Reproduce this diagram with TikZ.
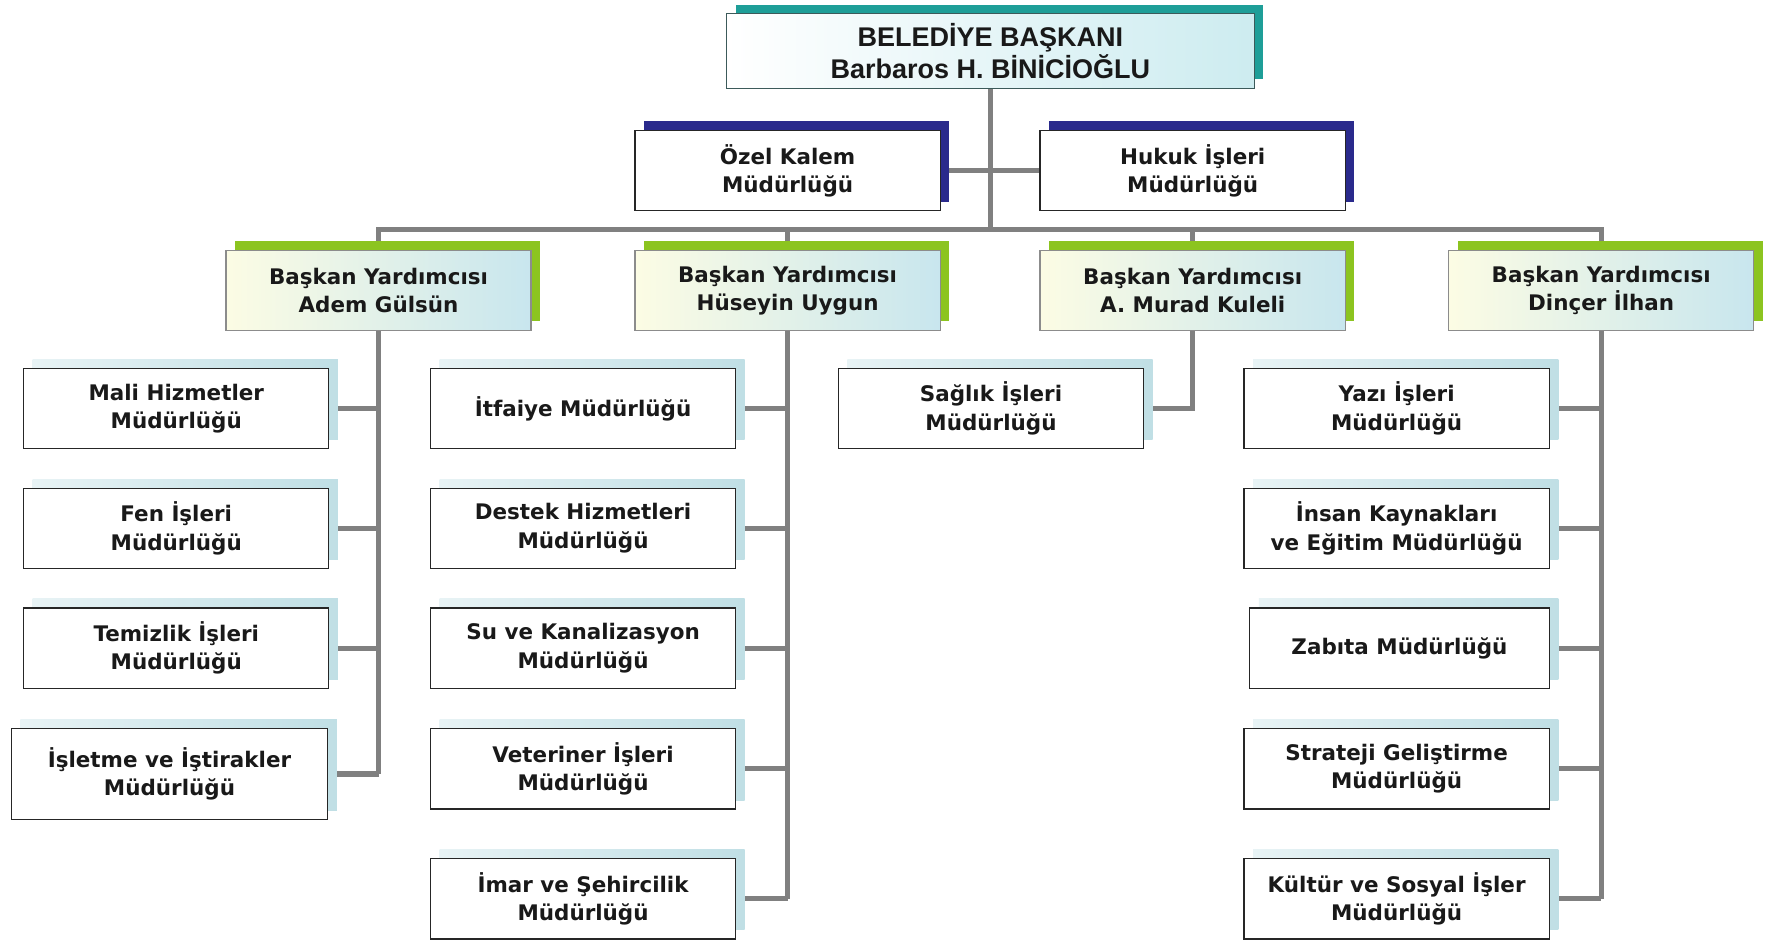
\documentclass[tikz,border=0pt]{standalone}
\usepackage{fontspec}
\setmainfont{DejaVu Sans}
\newfontfamily\arialf{Liberation Sans}
\usetikzlibrary{shadows,backgrounds}
\definecolor{tealsh}{RGB}{30,158,152}
\definecolor{tealbd}{RGB}{60,90,90}
\definecolor{navysh}{RGB}{42,42,140}
\definecolor{limesh}{RGB}{140,196,32}
\definecolor{bluesh}{RGB}{192,223,229}
\definecolor{bluesl}{RGB}{232,243,245}
\definecolor{conngray}{RGB}{128,128,128}
\definecolor{vpL}{RGB}{252,252,228}
\definecolor{vpR}{RGB}{200,230,238}
\definecolor{topR}{RGB}{205,236,240}
\tikzset{
  basebox/.style={draw=black!85, line width=0.8pt, align=center, inner sep=0pt,
    minimum width=6.75cm, minimum height=1.775cm,
    font=\bfseries\fontsize{13.5}{17.8}\selectfont, text=black!90},
  topbox/.style={basebox, draw=tealbd, minimum width=11.675cm, minimum height=1.65cm,
    left color=white, right color=topR,
    font=\arialf\bfseries\fontsize{17}{20}\selectfont,
    general shadow={fill=tealsh, shadow xshift=0.2cm, shadow yshift=0.2cm}},
  mgrbox/.style={basebox, fill=white,
    general shadow={fill=navysh, shadow xshift=0.2cm, shadow yshift=0.2cm}},
  vpbox/.style={basebox, draw=black!45, left color=vpL, right color=vpR,
    general shadow={fill=limesh, shadow xshift=0.2cm, shadow yshift=0.2cm}},
  subbox/.style={basebox, fill=white,
    general shadow={left color=bluesl, right color=bluesh, shadow xshift=0.2cm, shadow yshift=0.2cm}},
  conn/.style={draw=conngray, line width=3.2pt}
}
\begin{document}
\begin{tikzpicture}[x=0.025cm,y=-0.025cm]
\useasboundingbox (0,0) rectangle (1567.3,832.7);
% top
\node[topbox] (top) at (876.5,45) {BELEDİYE BAŞKANI\\Barbaros H. BİNİCİOĞLU};
\node[mgrbox] (ozel) at (697,151) {Özel Kalem\\Müdürlüğü};
\node[mgrbox] (hukuk) at (1055.5,151) {Hukuk İşleri\\Müdürlüğü};
% vice mayors
\node[vpbox] (adem) at (335,257) {Başkan Yardımcısı\\Adem Gülsün};
\node[vpbox] (huseyin) at (697,257) {Başkan Yardımcısı\\Hüseyin Uygun};
\node[vpbox] (murad) at (1055.5,257) {Başkan Yardımcısı\\A. Murad Kuleli};
\node[vpbox] (dincer) at (1417,257) {Başkan Yardımcısı\\Dinçer İlhan};
% column 1
\node[subbox] (mali) at (156,361.5) {Mali Hizmetler\\Müdürlüğü};
\node[subbox] (fen) at (156,467.5) {Fen İşleri\\Müdürlüğü};
\node[subbox] (temizlik) at (156,573.5) {Temizlik İşleri\\Müdürlüğü};
\node[subbox, minimum width=7cm, minimum height=2cm] (isletme) at (150,685) {İşletme ve İştirakler\\Müdürlüğü};
% column 2
\node[subbox] (itfaiye) at (516,361.5) {İtfaiye Müdürlüğü};
\node[subbox] (destek) at (516,467.5) {Destek Hizmetleri\\Müdürlüğü};
\node[subbox] (su) at (516,573.5) {Su ve Kanalizasyon\\Müdürlüğü};
\node[subbox] (veteriner) at (516,680.5) {Veteriner İşleri\\Müdürlüğü};
\node[subbox] (imar) at (516,795.5) {İmar ve Şehircilik\\Müdürlüğü};
% column 3
\node[subbox] (saglik) at (877,361.5) {Sağlık İşleri\\Müdürlüğü};
% column 4
\node[subbox] (yazi) at (1236,361.5) {Yazı İşleri\\Müdürlüğü};
\node[subbox] (insan) at (1236,467.5) {İnsan Kaynakları\\ve Eğitim Müdürlüğü};
\node[subbox, minimum width=6.625cm] (zabita) at (1238.5,573.5) {Zabıta Müdürlüğü};
\node[subbox] (strateji) at (1236,680.5) {Strateji Geliştirme\\Müdürlüğü};
\node[subbox] (kultur) at (1236,795.5) {Kültür ve Sosyal İşler\\Müdürlüğü};
% connectors
\coordinate (busC) at (876.5,203);
\begin{scope}[on background layer]
\fill[white] (0,0) rectangle (1567.3,832.7);
\draw[conn] (top.south) -- (busC);
\draw[conn] (ozel.east) -- (hukuk.west);
\draw[conn] (adem.north) |- (dincer.north |- busC) -- (dincer.north);
\draw[conn] (huseyin.north) -- (huseyin.north |- busC);
\draw[conn] (murad.north) -- (murad.north |- busC);
\draw[conn] (adem.south) -- (adem.south |- isletme.east);
\foreach \n in {mali,fen,temizlik,isletme} \draw[conn] (\n.east) -- (\n.east -| adem.south);
\draw[conn] (huseyin.south) -- (huseyin.south |- imar.east);
\foreach \n in {itfaiye,destek,su,veteriner,imar} \draw[conn] (\n.east) -- (\n.east -| huseyin.south);
\draw[conn] (murad.south) |- (saglik.east);
\draw[conn] (dincer.south) -- (dincer.south |- kultur.east);
\foreach \n in {yazi,insan,zabita,strateji,kultur} \draw[conn] (\n.east) -- (\n.east -| dincer.south);
\end{scope}
\end{tikzpicture}
\end{document}
